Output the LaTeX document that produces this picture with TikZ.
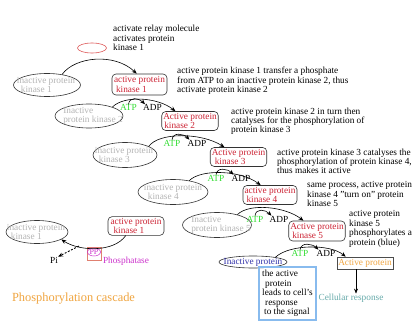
\documentclass[tikz,border=0pt]{standalone}
\usepackage{fontspec}
\setmainfont{Liberation Serif}
\usetikzlibrary{arrows.meta,shapes.geometric}
\definecolor{kred}{HTML}{CC2233}
\definecolor{kgray}{HTML}{B4B4B4}
\definecolor{kgreen}{HTML}{33DD33}
\definecolor{kblue}{HTML}{3333AA}
\definecolor{korange}{HTML}{F0A540}
\definecolor{kmag}{HTML}{CC33CC}
\definecolor{kteal}{HTML}{66AAAA}
\definecolor{kbox}{HTML}{88BBEE}
\definecolor{ksalmon}{HTML}{E08070}
\definecolor{kellred}{HTML}{DD5555}
\begin{document}
\begin{tikzpicture}[x=1pt,y=-1pt,
  every node/.style={font=\fontsize{9.3}{9.4}\selectfont, inner sep=0pt},
  ell/.style={draw=black!80, ellipse, line width=0.6pt},
  kbx/.style={draw=black!80, rounded corners=4pt, line width=0.6pt, text=kred, align=left, inner sep=1.5pt},
  gtxt/.style={text=kgray, align=left},
  note/.style={anchor=north west, align=left},
  atp/.style={text=kgreen},
  flow/.style={line width=0.6pt, -{Stealth[length=5pt,width=4pt]}},
]
\useasboundingbox (0,0) rectangle (415,321);
\fill[white] (0,0) rectangle (415,321);

% top
\node[ell, draw=kellred, minimum width=29pt, minimum height=10pt] (relay) at (92,48) {};
\node[note] (t1) at (113,25) {activate relay molecule\\activates protein\\kinase 1};
\node[ell, minimum width=67pt, minimum height=23pt] (i1) at (47,85) {};
\node[gtxt] (i1t) at (46,85) {inactive protein\\\hspace*{4pt}kinase 1};
\node[kbx, minimum width=55pt, minimum height=21pt] (k1) at (139.5,84.5) {active protein\\\hspace*{2pt}kinase 1};
\node[note] (t2) at (177,67) {active protein kinase 1 transfer a phosphate\\from ATP to an inactive protein kinase 2, thus\\activate protein kinase 2};
\draw[flow] (i1.35) .. controls +(13,-18) and +(-22,-21) .. ([xshift=25pt]k1.north west);

% reaction 1
\node[ell, minimum width=68pt, minimum height=24pt] (i2) at (89,116) {};
\node[gtxt] (i2t) at (93,116) {Inactive\\protein kinase 2};
\node[atp] (atp1) at (128.5,107.5) {ATP};
\node (adp1) at (152.5,107.5) {ADP};
\node[kbx, minimum width=54pt, minimum height=19pt] (k2) at (190,121) {Active protein\\\hspace*{1pt}kinase 2};
\node[note] (t3) at (231,107.5) {active protein kinase 2 in turn then\\catalyses for the phosphorylation of\\protein kinase 3};
\draw[flow] (i2.21) .. controls +(12,-12) and +(-18,-14) .. ([xshift=14pt]k2.north west);
\draw[flow] (atp1.north) .. controls +(1,-8) and +(-6,-6) .. ([xshift=2pt]adp1.north west);

% reaction 2
\node[ell, minimum width=64pt, minimum height=25pt] (i3) at (125,155) {};
\node[gtxt] (i3t) at (124,155) {inactive protein\\\hspace*{4pt}kinase 3};
\node[atp] (atp2) at (172,143) {ATP};
\node (adp2) at (197,143) {ADP};
\node[kbx, minimum width=55pt, minimum height=19pt] (k3) at (238.5,157) {Active protein\\\hspace*{3pt}kinase 3};
\node[note] (t4) at (277,148.5) {active protein kinase 3 catalyses the\\phosphorylation of protein kinase 4,\\thus makes it active};
\draw[flow] (i3.20) .. controls +(10,-14) and +(-24,-15) .. ([xshift=14.5pt]k3.north west);
\draw[flow] (atp2.north) .. controls +(1,-8) and +(-6,-6) .. ([xshift=2pt]adp2.north west);

% reaction 3
\node[ell, minimum width=70pt, minimum height=25pt] (i4) at (173,192) {};
\node[gtxt] (i4t) at (173,192) {inactive protein\\\hspace*{4pt}kinase 4};
\node[atp] (atp3) at (216,178) {ATP};
\node (adp3) at (241,178) {ADP};
\node[kbx, minimum width=54pt, minimum height=19pt] (k4) at (270,195) {active protein\\\hspace*{2pt}kinase 4};
\node[note] (t5) at (307,181.5) {same process, active protein\\kinase 4 "turn on" protein\\kinase 5};
\draw[flow] (i4.35) .. controls +(12,-12) and +(-20,-15) .. ([xshift=18pt]k4.north west);
\draw[flow] (atp3.north) .. controls +(1,-8) and +(-6,-6) .. ([xshift=2pt]adp3.north west);

% reaction 4
\node[ell, minimum width=69pt, minimum height=25pt] (i5) at (217,225) {};
\node[gtxt] (i5t) at (221,225) {Inactive\\protein kinase 5};
\node[atp] (atp4) at (255,219) {ATP};
\node (adp4) at (279,219) {ADP};
\node[kbx, minimum width=56pt, minimum height=20pt] (k5) at (317,231) {Active protein\\\hspace*{2pt}kinase 5};
\node[note] (t6) at (349,210.5) {active protein\\kinase 5\\phosphorylates a\\protein (blue)};
\draw[flow] (i5.27) .. controls +(12,-12) and +(-18,-14) .. ([xshift=15pt]k5.north west);
\draw[flow] (atp4.north) .. controls +(1,-8) and +(-6,-6) .. ([xshift=2pt]adp4.north west);

% reaction 5
\node[ell, minimum width=68pt, minimum height=12pt] (ip) at (253,262) {};
\node[text=kblue] (ipt) at (253,262) {Inactive protein};
\node[atp] (atp5) at (300,253) {ATP};
\node (adp5) at (326,253) {ADP};
\node[draw=black!70, line width=0.6pt, minimum width=56pt, minimum height=12pt, text=korange] (ap) at (365,263) {Active protein};
\draw[flow] (ip.12) .. controls +(14,-13) and +(-16,-13) .. ([xshift=9pt]ap.north west);
\draw[flow] (atp5.north) .. controls +(1,-8) and +(-6,-6) .. ([xshift=2pt]adp5.north west);
\node[text=kteal] (cr) at (351,298) {Cellular response};
\draw[flow] ([xshift=-9pt]ap.south) -- ([xshift=5pt]cr.north);
\node[draw=kbox, line width=1.6pt, minimum width=57pt, minimum height=53pt, align=left] (bb) at (287.5,293.5) {the active\\\hspace*{3pt}protein\\leads to cell's\\\hspace*{3pt}response\\\hspace*{2pt}to the signal};

% phosphatase part
\node[ell, minimum width=62pt, minimum height=23pt] (bi1) at (37,232) {};
\node[gtxt] (bi1t) at (36,232) {inactive protein\\\hspace*{4pt}kinase 1};
\node[kbx, minimum width=56pt, minimum height=18pt] (bk1) at (136,226) {active protein\\\hspace*{3pt}kinase 1};
\node[draw=ksalmon, line width=0.5pt, minimum width=14pt, minimum height=13pt] (pprect) at (94,254) {};
\node[ellipse, draw=kmag, line width=0.5pt, text=kmag, font=\fontsize{8}{8}\selectfont, minimum width=13pt, minimum height=8pt] (pp) at (94,252) {PP};
\node[text=kmag] (phos) at (126,261) {Phosphatase};
\node (pi) at (54,260) {Pi};
\draw[flow] ([xshift=18pt]bk1.south west) .. controls +(-12,17) and +(18,12) .. (bi1.-17);
\coordinate (ds) at (79,246);
\draw[flow, line width=0.9pt, dash pattern=on 2pt off 1.5pt] (ds) -- (pi.north east);

\node[text=korange, font=\fontsize{12.4}{13}\selectfont] (title) at (73.5,299) {Phosphorylation cascade};
\end{tikzpicture}
\end{document}
